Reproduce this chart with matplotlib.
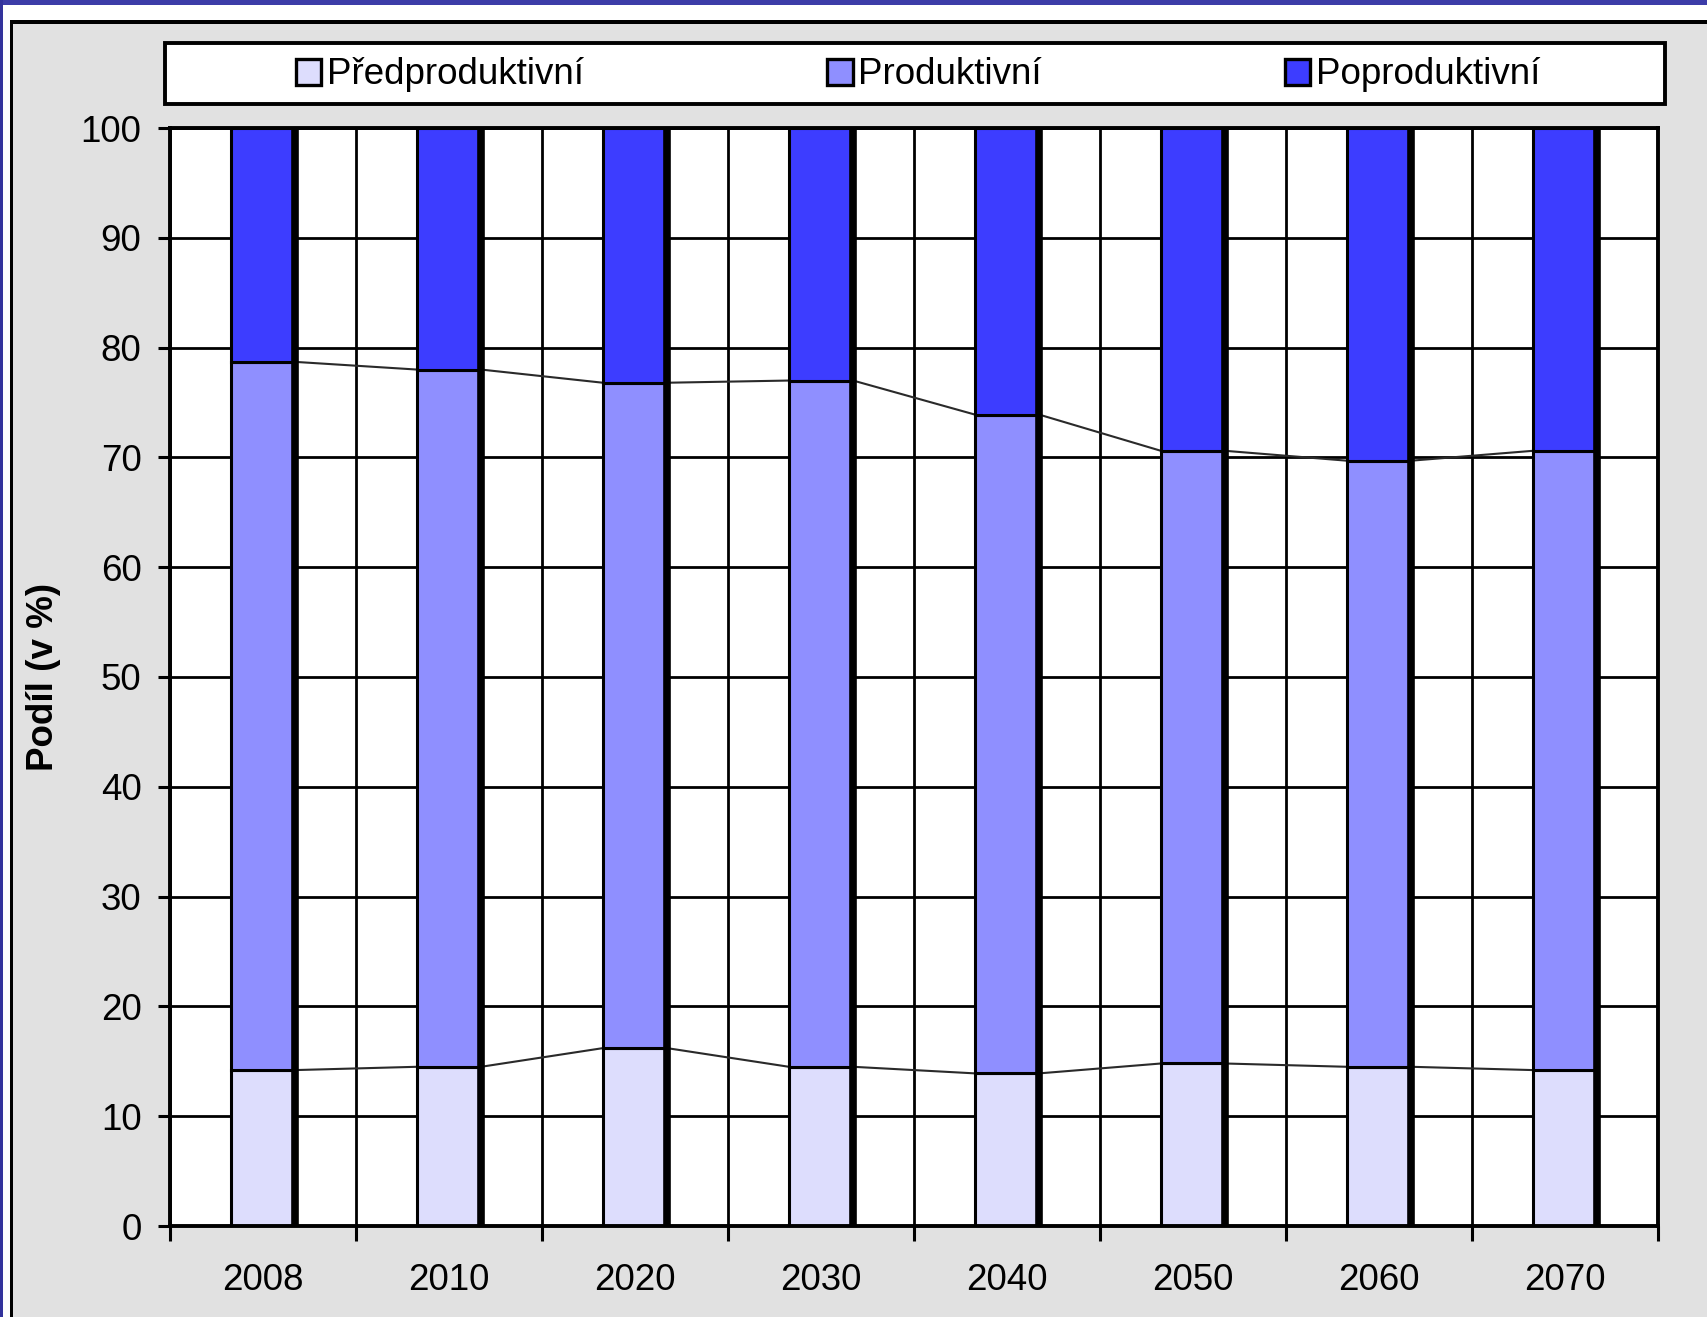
import matplotlib
matplotlib.use('Agg')
import matplotlib.pyplot as plt
from matplotlib.patches import Rectangle, Patch

plt.rcParams['font.family'] = ['Liberation Sans', 'DejaVu Sans']

years = ['2008', '2010', '2020', '2030', '2040', '2050', '2060', '2070']
predproduktivni = [14.2, 14.5, 16.2, 14.5, 13.9, 14.8, 14.5, 14.2]
# cumulative top of the productive share
produktivni_top = [78.7, 78.0, 76.8, 77.0, 73.9, 70.6, 69.7, 70.6]

labels = ['Předproduktivní', 'Produktivní', 'Poproduktivní']
colors = ['#DDDDFD', '#8F8FFF', '#3D3DFF']
fs = 26.5

W, H = 1708, 1317
fig = plt.figure(figsize=(W / 100, H / 100), dpi=100)
fig.patch.set_facecolor('white')


def px_rect(x0, y0, x1, y1, color):
    # rectangle given in pixels from the top left
    fig.patches.append(Rectangle((x0 / W, 1 - y1 / H), (x1 - x0) / W, (y1 - y0) / H,
                                 transform=fig.transFigure, facecolor=color,
                                 edgecolor='none', zorder=-10))


# slide frame round the chart
px_rect(0, 0, W, 5, '#3C3CA8')
px_rect(0, 0, 3.5, H, '#33339C')
px_rect(10, 20, W, 23.5, 'black')
px_rect(10, 20, 13.5, H, 'black')
px_rect(13.5, 23.5, W, H, '#E1E1E1')

ax_l, ax_r, ax_t, ax_b = 170, 1658, 128, 1226
ax = fig.add_axes([ax_l / W, 1 - ax_b / H, (ax_r - ax_l) / W, (ax_b - ax_t) / H])
ax.set_facecolor('white')

x = list(range(len(years)))
produktivni = [t - p for t, p in zip(produktivni_top, predproduktivni)]
poproduktivni = [100 - t for t in produktivni_top]
w = 0.345

ax.bar(x, predproduktivni, w, color=colors[0], edgecolor='black', lw=2.2, zorder=3)
ax.bar(x, produktivni, w, bottom=predproduktivni, color=colors[1], edgecolor='black', lw=2.2, zorder=3)
ax.bar(x, poproduktivni, w, bottom=produktivni_top, color=colors[2], edgecolor='black', lw=2.2, zorder=3)
# heavy right edge of each bar
ax.vlines([i + w / 2 for i in x], 0, 100, colors='black', lw=5.5, zorder=4)

# series lines joining the bars
for series in (predproduktivni, produktivni_top):
    for i in range(len(x) - 1):
        ax.plot([x[i] + w / 2, x[i + 1] - w / 2], [series[i], series[i + 1]],
                color='#2a2a2a', lw=1.5, zorder=2)

ax.set_xlim(-0.5, len(years) - 0.5)
ax.set_ylim(0, 100)
ax.set_yticks(range(0, 101, 10))
ax.set_xticks([i - 0.5 for i in range(len(years) + 1)])
ax.set_xticklabels([])
ax.set_xticks(x, minor=True)
ax.set_xticklabels(years, minor=True)
ax.tick_params(axis='x', which='major', length=11, width=2.2, direction='out')
ax.tick_params(axis='x', which='minor', length=0, pad=27, labelsize=fs)
ax.tick_params(axis='y', length=8.6, width=2.2, direction='out', pad=12, labelsize=fs)

ax.grid(True, which='major', color='black', lw=2.0)
ax.set_axisbelow(True)
for s in ax.spines.values():
    s.set_linewidth(2.8)
    s.set_zorder(5)

fig.text(44 / W, 1 - 677 / H, 'Podíl (v %)', rotation=90, ha='center', va='center',
         fontsize=fs, fontweight='bold')

# legend box
fig.patches.append(Rectangle((165 / W, 1 - 104 / H), 1500 / W, 61 / H,
                             transform=fig.transFigure, facecolor='white',
                             edgecolor='black', lw=2.8, zorder=1))
handles = [Patch(facecolor=c, edgecolor='black', lw=2.4) for c in colors]
fig.legend(handles, labels, loc='center', bbox_to_anchor=(918 / W, 1 - 75 / H),
           ncol=3, frameon=False, fontsize=fs, columnspacing=6.6,
           handlelength=0.7, handleheight=0.7, handletextpad=0.15)

fig.savefig('out.png', dpi=100)
